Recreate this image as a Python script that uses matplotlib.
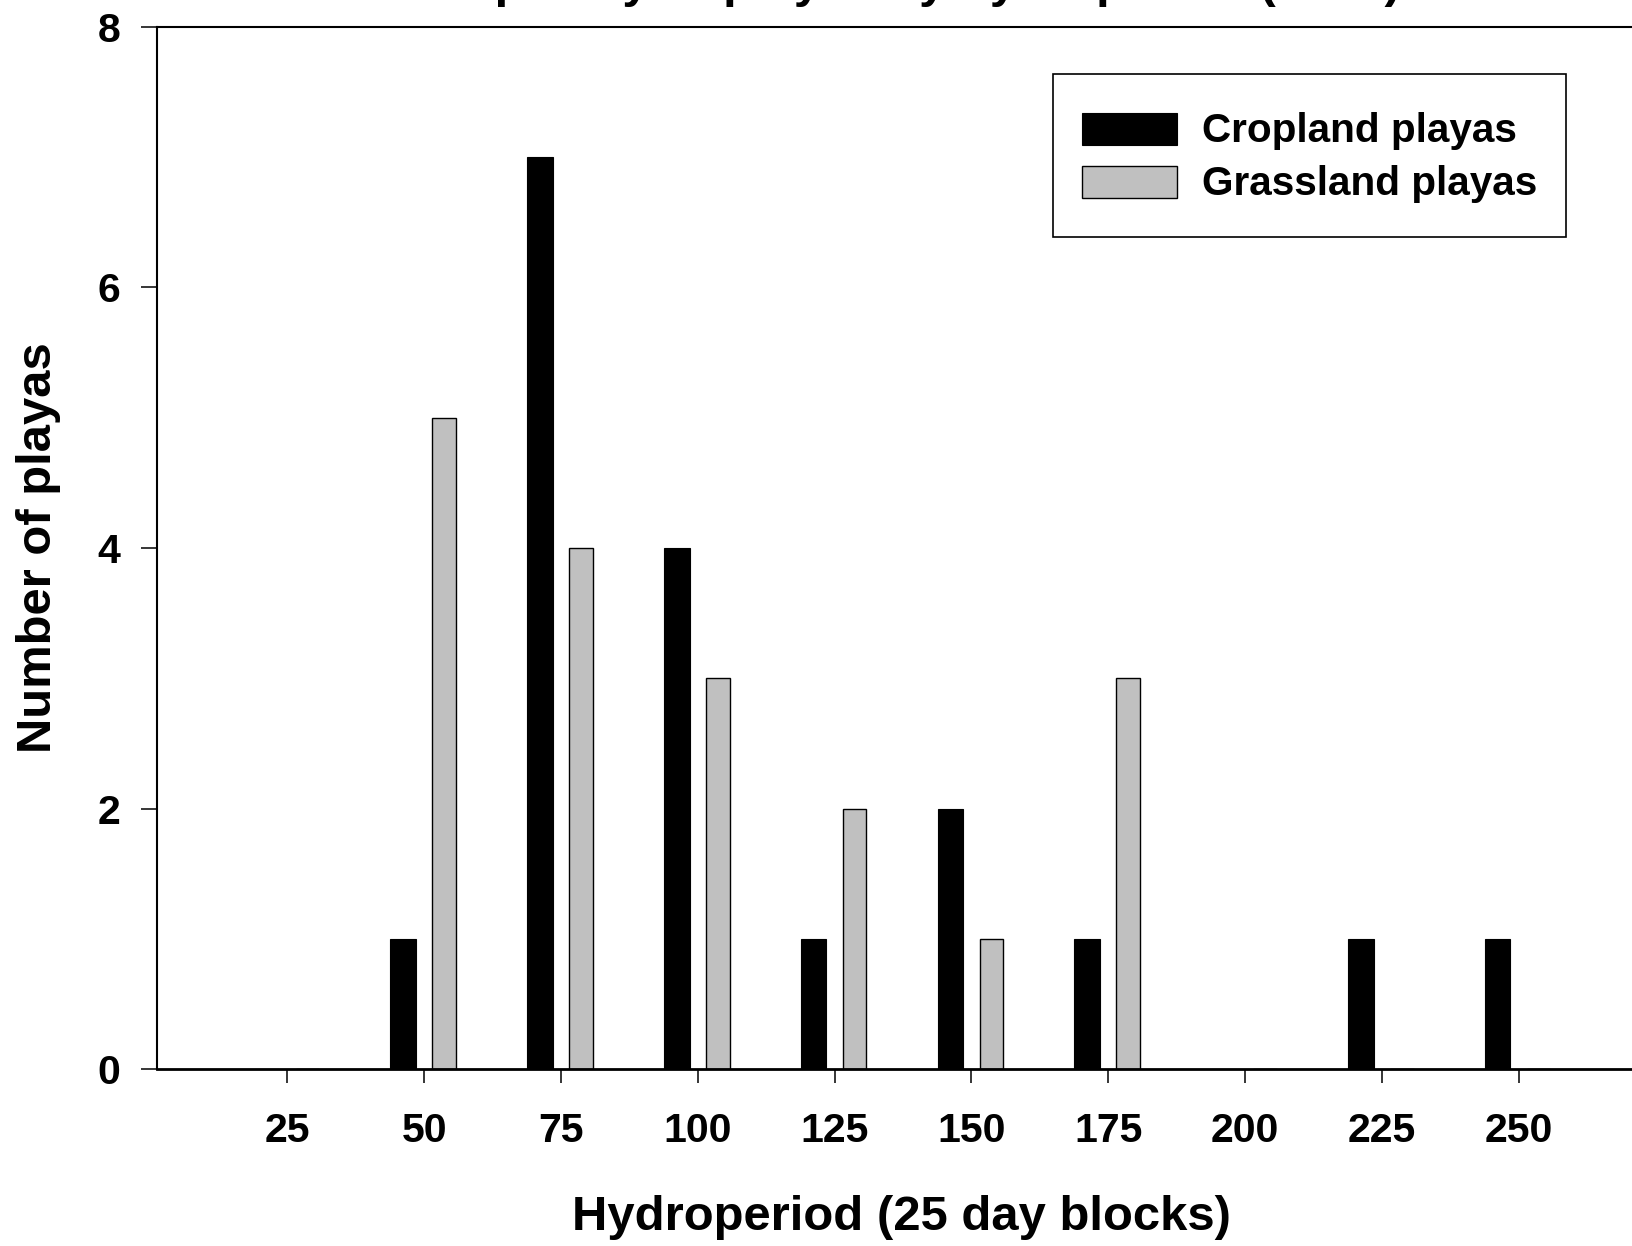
import matplotlib
matplotlib.use("Agg")
import matplotlib.pyplot as plt
import matplotlib.patches as mpatches
from matplotlib.legend_handler import HandlerPatch
import numpy as np

plt.rcParams['font.family'] = ['Liberation Sans', 'DejaVu Sans']
plt.rcParams['font.weight'] = 'bold'

# ---- data ----
hydroperiod = [25, 50, 75, 100, 125, 150, 175, 200, 225, 250]
tick_labels = ["25", "50", "75", "100", "125", "150", "175", "200", "225", "250"]
cropland = [0, 1, 7, 4, 1, 2, 1, 0, 1, 1]
grassland = [0, 5, 4, 3, 2, 1, 3, 0, 0, 0]
series_names = ["Cropland playas", "Grassland playas"]
title = "Frequency of playas by hydroperiod (2005)"
xlabel = "Hydroperiod (25 day blocks)"
ylabel = "Number of playas"

W, H = 1632, 1246
fig = plt.figure(figsize=(W / 100, H / 100), dpi=100)
ax = fig.add_axes([157 / W, 1 - 1069.3 / H, (1645 - 157) / W, (1069.3 - 26.7) / H])

x = np.array(hydroperiod, dtype=float)
ax.bar(x - 3.85, cropland, width=4.7, color='black', edgecolor='black',
       linewidth=0.8, zorder=2)
ax.bar(x + 3.65, grassland, width=4.3, color='#C0C0C0', edgecolor='black',
       linewidth=1.0, zorder=2)

ax.set_xlim(1.15, 273.1)
ax.set_ylim(0, 8)
ax.set_xticks(hydroperiod)
ax.set_xticklabels(tick_labels)
ax.set_yticks([0, 2, 4, 6, 8])

for s in ['left', 'top', 'right']:
    ax.spines[s].set_linewidth(1.5)
ax.spines['bottom'].set_linewidth(2.0)

ax.tick_params(axis='y', direction='out', length=11.5, width=1.1, pad=15,
               labelsize=29.5)
ax.tick_params(axis='x', direction='out', length=10, width=1.1, pad=21,
               labelsize=29.5)
for lab in ax.get_xticklabels() + ax.get_yticklabels():
    lab.set_fontweight('bold')

ax.set_xlabel(xlabel, fontsize=35.3, fontweight='bold')
ax.xaxis.set_label_coords(0.5, (1069.3 - 1218) / (1069.3 - 26.7))
ax.xaxis.label.set_va('center')
ax.set_ylabel(ylabel, fontsize=35.3, fontweight='bold')
ax.yaxis.set_label_coords((38.5 - 157) / (1645 - 157), 0.5)
ax.yaxis.label.set_ha('center')
ax.yaxis.label.set_va('center')

fig.text(901 / W, 1 + 3 / H, title, ha='center', va='baseline',
         fontsize=35.3, fontweight='bold')

LEG_FS = 29.2


def fixed_patch(legend, orig_handle, xdescent, ydescent, width, height, fontsize):
    h = 0.8 * fontsize
    return mpatches.Rectangle((-xdescent, -ydescent + (height - h) / 2), width, h)


handles = [mpatches.Patch(facecolor='black', edgecolor='black', linewidth=0.8),
           mpatches.Patch(facecolor='#C0C0C0', edgecolor='black', linewidth=1.0)]
leg = ax.legend(handles, series_names, loc='upper left',
                bbox_to_anchor=(1053 / W, 1 - 74 / H),
                bbox_transform=fig.transFigure, borderaxespad=0,
                fontsize=LEG_FS, handlelength=2.35, handleheight=1.6,
                handletextpad=0.6, labelspacing=0.02, borderpad=0.715,
                fancybox=False, shadow=False, framealpha=1, edgecolor='black',
                handler_map={mpatches.Patch: HandlerPatch(patch_func=fixed_patch)})
leg.get_frame().set_linewidth(1.2)
for t in leg.get_texts():
    t.set_fontweight('bold')

fig.savefig("out.png", dpi=100)
